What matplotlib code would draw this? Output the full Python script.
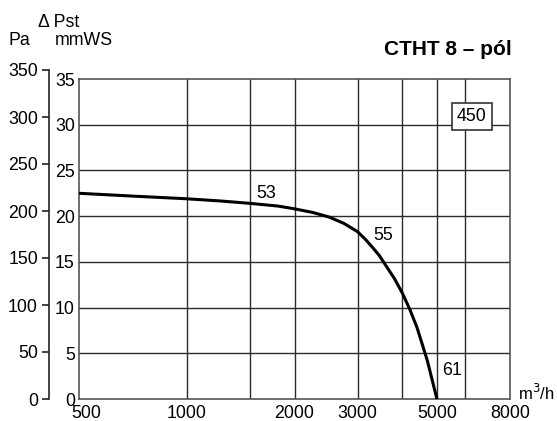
import numpy as np
import matplotlib.pyplot as plt
import matplotlib.transforms as mtransforms
from matplotlib.ticker import FixedLocator, NullLocator

plt.rcParams['font.family'] = ['Liberation Sans', 'DejaVu Sans']
FS = 12.8

# fan curve (m3/h, mmWS)
flow = [500, 700, 1000, 1250, 1500, 1800, 2000, 2250, 2500, 2750, 3000, 3150, 3300, 3450,
        3600, 3800, 4000, 4200, 4400, 4700, 5000]
pst = [22.5, 22.2, 21.9, 21.65, 21.4, 21.1, 20.8, 20.4, 19.9, 19.2, 18.3, 17.5, 16.6, 15.7,
       14.6, 13.2, 11.6, 9.8, 7.8, 4.2, 0.0]

x_grid = [1000, 1500, 2000, 3000, 4000, 5000, 6000]
x_ticks = [500, 1000, 2000, 3000, 5000, 8000]
mmws_ticks = [0, 5, 10, 15, 20, 25, 30, 35]
pa_ticks = [0, 50, 100, 150, 200, 250, 300, 350]

labels = [("53", 1560, 22.0), ("55", 3316, 17.4), ("61", 5165, 2.6)]

fig = plt.figure(figsize=(5.57, 4.21), dpi=100)
ax = fig.add_axes([79 / 557, 22 / 421, 431 / 557, 320 / 421])

ax.set_xscale('log')
ax.set_xlim(500, 8000)
ax.set_ylim(0, 35)

for g in x_grid:
    ax.axvline(g, color='#2a2a2a', lw=1.0, zorder=1)
for g in mmws_ticks[1:-1]:
    ax.axhline(g, color='#2a2a2a', lw=1.0, zorder=1)
for s in ax.spines.values():
    s.set_color('#555555')
    s.set_linewidth(1.2)

ax.plot(flow, pst, color='black', lw=2.2, zorder=3, solid_capstyle='butt')

ax.xaxis.set_major_locator(FixedLocator(x_ticks))
ax.xaxis.set_minor_locator(NullLocator())
ax.set_xticklabels([str(t) for t in x_ticks])
ax.set_yticks(mmws_ticks)
ax.tick_params(axis='both', length=0, labelsize=FS)
ax.tick_params(axis='x', pad=4.5)
ax.tick_params(axis='y', pad=3)

# nudge the first x label right, as in the original
lab0 = ax.get_xticklabels()[0]
lab0.set_transform(lab0.get_transform() +
                   mtransforms.ScaledTranslation(7 / 100, 0, fig.dpi_scale_trans))

# Pa axis on the far left (drawn slightly taller than the mmWS axis)
pa = fig.add_axes([49 / 557, 22 / 421, 0.001, 329 / 421])
pa.set_ylim(0, 350)
pa.set_yticks(pa_ticks)
pa.set_xticks([])
for k in ['top', 'right', 'bottom']:
    pa.spines[k].set_visible(False)
pa.spines['left'].set_linewidth(1.2)
pa.spines['left'].set_color('#222222')
pa.patch.set_visible(False)
pa.tick_params(axis='y', length=5, width=1.2, labelsize=FS, pad=3, color='#222222')

for txt, xv, yv in labels:
    ax.text(xv, yv, txt, fontsize=FS, ha='left', va='baseline', zorder=4)

ax.text(6265, 30.9, "450", fontsize=FS, ha='center', va='center', zorder=4,
        bbox=dict(boxstyle='square,pad=0.28', fc='white', ec='#333333', lw=1.2))

fig.text(8 / 557, 1 - 45 / 421, "Pa", fontsize=FS, ha='left', va='baseline')
fig.text(38 / 557, 1 - 27 / 421, "\u0394 Pst", fontsize=FS, ha='left', va='baseline')
fig.text(55 / 557, 1 - 45 / 421, "mmWS", fontsize=FS, ha='left', va='baseline')
fig.text(512 / 557, 1 - 55 / 421, "CTHT 8 \u2013 pól", fontsize=15, fontweight='bold',
         ha='right', va='baseline')
fig.text(518 / 557, 1 - 400 / 421, "m$^3$/h", fontsize=12, ha='left', va='baseline')

fig.savefig('out.png', dpi=100)
